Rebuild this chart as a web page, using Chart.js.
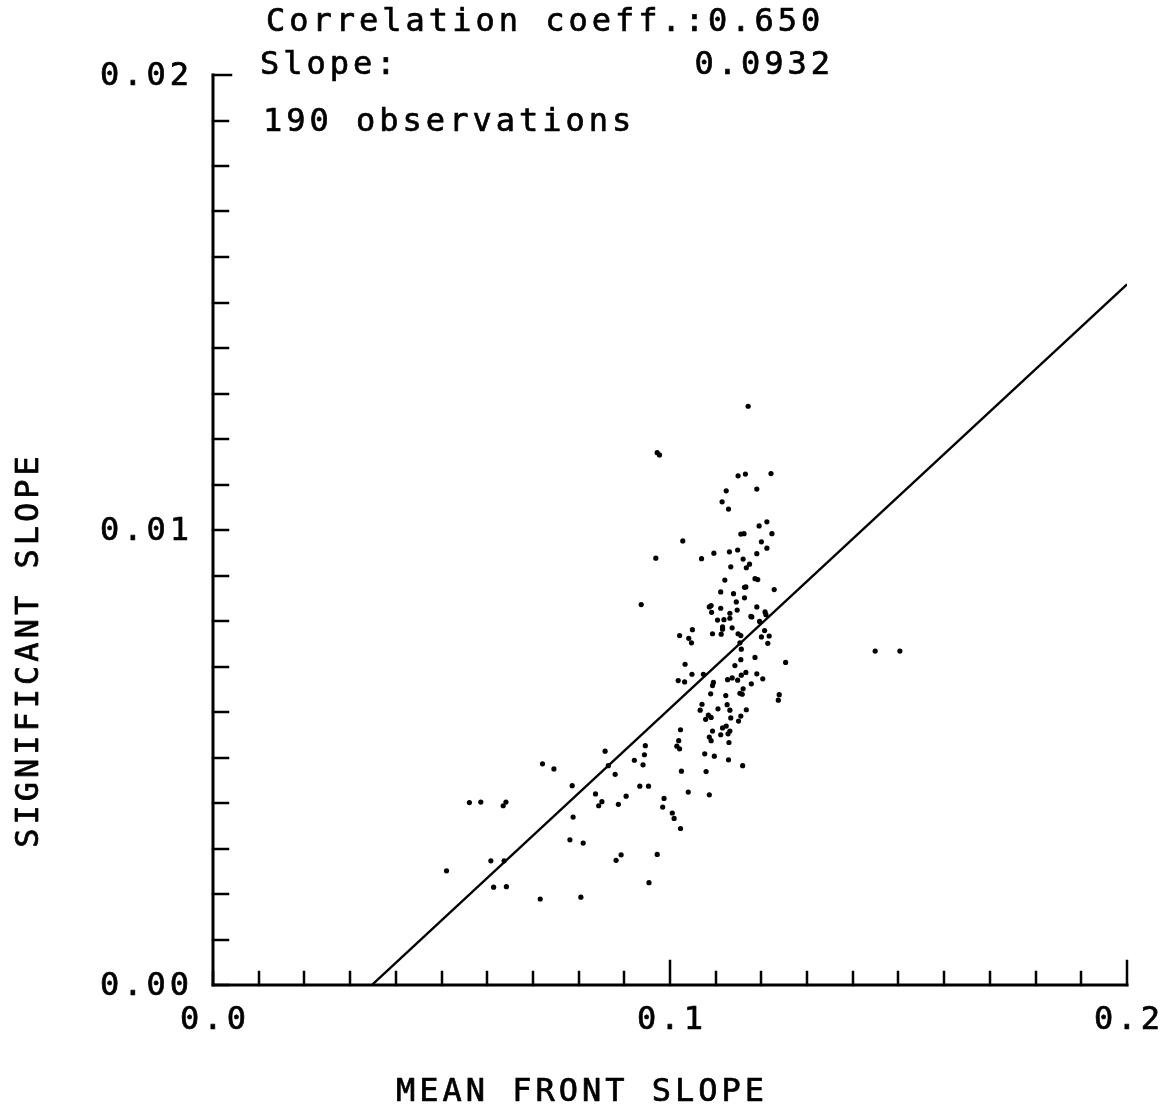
<!DOCTYPE html>
<html>
<head>
<meta charset="utf-8">
<script src="https://cdn.jsdelivr.net/npm/chart.js@4.4.0/dist/chart.umd.min.js"></script>
<style>
  html, body { margin: 0; padding: 0; background: #ffffff; }
  canvas { display: block; }
</style>
</head>
<body>
<canvas id="chart" width="1172" height="1118"></canvas>
<script>
// Mean front slope (x) and significant slope (y) for each observation
const frontSlope = [
  0.0511,0.0561,0.0586,0.0608,0.0614,0.0635,0.0641,0.0637,0.0642,0.0716,
  0.0721,0.0746,0.0781,0.0786,0.0788,0.0805,0.0810,0.0837,0.0844,0.0851,
  0.0858,0.0865,0.0880,0.0882,0.0887,0.0893,0.0904,0.0922,0.0934,0.0941,
  0.0944,0.0946,0.0953,0.0954,0.0972,0.0984,0.0987,0.1005,0.1009,0.1015,
  0.1021,0.1019,0.1023,0.1023,0.1025,0.1040,0.1086,
  0.0937,0.0969,0.0972,0.1028,0.1049,0.1021,0.1041,0.1047,0.1033,0.1048,0.1018,0.1032,
  0.1066,0.1073,0.1153,0.1214,0.1156,0.1186,0.1155,0.1253,0.1142,0.1166,
  0.1156,0.1190,0.1136,0.1126,0.1148,0.1203,0.1178,0.1095,0.1093,0.1160,
  0.1153,0.1158,0.1089,0.1122,0.1239,0.1237,0.1070,0.1125,0.1105,0.1131,
  0.1167,0.1084,0.1078,0.1090,0.1155,0.1133,0.1150,0.1123,0.1115,0.1093,
  0.1131,0.1127,0.1111,0.1086,0.1090,0.1129,0.1076,0.1097,0.1128,0.1159,0.1079,
  0.1114,0.1128,0.1212,0.1195,0.1223,0.1155,0.1162,0.1200,0.1212,0.1130,
  0.1148,0.1096,0.1190,0.1069,0.1160,0.1174,0.1167,0.1133,0.1186,0.1192,
  0.1120,0.1163,0.1111,0.1139,0.1228,0.1163,0.1145,0.1090,0.1086,0.1111,
  0.1190,0.1147,0.1091,0.1131,0.1208,0.1177,0.1118,0.1104,0.1131,0.1196,
  0.1115,0.1115,0.1136,0.1207,0.1093,0.1112,0.1149,0.1155,0.1200,0.1217,
  0.1210,0.1166,0.1179,0.1123,0.1190,0.1149,0.1165,0.1221,0.1171,0.0977,0.1449,0.1503
];
const significantSlope = [
  0.00251,0.00401,0.00402,0.00273,0.00215,0.00394,0.00402,0.00273,0.00216,0.00189,
  0.00486,0.00475,0.00319,0.00438,0.00369,0.00193,0.00312,0.00420,0.00394,0.00403,
  0.00514,0.00482,0.00463,0.00274,0.00397,0.00286,0.00415,0.00494,0.00437,0.00484,
  0.00506,0.00526,0.00437,0.00225,0.00287,0.00391,0.00410,0.00378,0.00366,0.00525,
  0.00519,0.00537,0.00561,0.00344,0.00470,0.00424,0.00418,
  0.00836,0.00938,0.01170,0.00976,0.00781,0.00768,0.00762,0.00752,0.00705,0.00683,0.00669,0.00666,
  0.00604,0.00683,0.00752,0.00751,0.00738,0.00720,0.00715,0.00709,0.00702,0.00687,
  0.00681,0.00684,0.00675,0.00671,0.00670,0.00673,0.00662,0.00665,0.00658,0.00651,
  0.00641,0.00639,0.00640,0.00636,0.00638,0.00626,0.00617,0.00616,0.00607,0.00604,
  0.00605,0.00593,0.00584,0.00588,0.00591,0.00587,0.00580,0.00569,0.00565,0.00558,
  0.00558,0.00552,0.00550,0.00545,0.00537,0.00533,0.00508,0.00503,0.00495,0.00482,0.00469,
  0.01062,0.01046,0.01018,0.01009,0.00992,0.00991,0.00992,0.00974,0.00960,0.00952,
  0.00956,0.00949,0.00948,0.00937,0.00936,0.00925,0.00917,0.00919,0.00893,0.00891,
  0.00890,0.00874,0.00864,0.00860,0.00869,0.00851,0.00842,0.00834,0.00831,0.00828,
  0.00831,0.00824,0.00819,0.00817,0.00820,0.00810,0.00803,0.00802,0.00806,0.00799,
  0.00787,0.00782,0.00785,0.00779,0.00772,0.00771,0.00772,0.00768,0.00765,0.00767,
  0.00814,0.00875,0.00809,0.01086,0.01090,0.01119,0.01123,0.01124,0.01272,0.01165,0.00734,0.00734
];

// Axis ticks and labels
const xTickValues = [0.0, 0.1, 0.2];
const xTickLabels = ['0.0', '0.1', '0.2'];
const yTickValues = [0.00, 0.01, 0.02];
const yTickLabels = ['0.00', '0.01', '0.02'];
const xMinorStep = 0.01;
const yMinorStep = 0.001;

// Regression summary
const correlationCoeff = '0.650';
const fitSlope = 0.0932;
const fitIntercept = -0.00324;
const fitXRange = [0.0348, 0.2];
const observationCount = 190;

const points = frontSlope.map((x, i) => ({ x: x, y: significantSlope[i] }));
const fitLine = fitXRange.map(x => ({ x: x, y: fitSlope * x + fitIntercept }));

const FONT = '32px "DejaVu Sans Mono"';
const INK = '#000000';

// Pen-style text: filled glyphs with a thin outline for a slightly heavier stroke
function drawText(ctx, text, x, y, align, baseline, rotate) {
  ctx.save();
  ctx.font = FONT;
  ctx.fillStyle = INK;
  ctx.strokeStyle = INK;
  ctx.lineWidth = 0.7;
  ctx.lineJoin = 'round';
  if ('letterSpacing' in ctx) ctx.letterSpacing = '4px';
  ctx.translate(x, y);
  if (rotate) ctx.rotate(rotate);
  const w = ctx.measureText(text).width;
  let dx = 0;
  if (align === 'center') dx = -w / 2;
  else if (align === 'right') dx = -w;
  ctx.textAlign = 'left';
  ctx.textBaseline = baseline;
  ctx.fillText(text, dx, 0);
  ctx.strokeText(text, dx, 0);
  ctx.restore();
}

// Plotter-style axes: inward ticks, labels and annotation text
const plotterFrame = {
  id: 'plotterFrame',
  afterDraw(chart) {
    const ctx = chart.ctx;
    const xs = chart.scales.x, ys = chart.scales.y;
    const left = xs.left, bottom = ys.bottom;
    ctx.save();
    ctx.strokeStyle = INK;
    ctx.lineCap = 'square';

    // axis lines
    ctx.lineWidth = 3;
    ctx.beginPath();
    ctx.moveTo(left, ys.getPixelForValue(0.02));
    ctx.lineTo(left, bottom);
    ctx.lineTo(xs.getPixelForValue(0.2), bottom);
    ctx.stroke();

    // y ticks, pointing right
    ctx.lineWidth = 2.5;
    for (let i = 0; i <= 20; i++) {
      const v = i * yMinorStep;
      const py = Math.round(ys.getPixelForValue(v));
      const len = (i === 20) ? 18 : 15;
      ctx.beginPath();
      ctx.moveTo(left, py);
      ctx.lineTo(left + len, py);
      ctx.stroke();
    }
    // x ticks, pointing up
    for (let i = 0; i <= 20; i++) {
      const v = i * xMinorStep;
      const px = Math.round(xs.getPixelForValue(v));
      const len = (i === 10 || i === 20) ? 24 : 13;
      ctx.beginPath();
      ctx.moveTo(px, bottom);
      ctx.lineTo(px, bottom - len);
      ctx.stroke();
    }
    ctx.restore();

    // tick labels
    yTickValues.forEach((v, i) => {
      drawText(ctx, yTickLabels[i], left - 20, ys.getPixelForValue(v) + 2, 'right', 'middle');
    });
    xTickValues.forEach((v, i) => {
      drawText(ctx, xTickLabels[i], xs.getPixelForValue(v) + 2, bottom + 36, 'center', 'middle');
    });

    // axis titles
    drawText(ctx, 'MEAN FRONT SLOPE', 582, 1093, 'center', 'middle');
    drawText(ctx, 'SIGNIFICANT SLOPE', 30, 650, 'center', 'middle', -Math.PI / 2);

    // regression summary
    drawText(ctx, 'Correlation coeff.:' + correlationCoeff, 266, 23, 'left', 'middle');
    drawText(ctx, 'Slope:', 260, 66, 'left', 'middle');
    drawText(ctx, fitSlope.toFixed(4), 834, 66, 'right', 'middle');
    drawText(ctx, observationCount + ' observations', 263, 123, 'left', 'middle');
  }
};

new Chart(document.getElementById('chart'), {
  data: {
    datasets: [
      {
        type: 'scatter',
        data: points,
        backgroundColor: INK,
        borderColor: INK,
        pointRadius: 2.6,
        pointBorderWidth: 0,
        pointHoverRadius: 2.6
      },
      {
        type: 'line',
        data: fitLine,
        borderColor: INK,
        borderWidth: 2.4,
        pointRadius: 0,
        fill: false,
        tension: 0
      }
    ]
  },
  options: {
    responsive: false,
    animation: false,
    events: [],
    layout: { padding: { left: 213, right: 45, top: 75, bottom: 133 } },
    plugins: { legend: { display: false }, tooltip: { enabled: false }, title: { display: false } },
    scales: {
      x: {
        type: 'linear', position: 'bottom', min: 0, max: 0.2,
        grid: { display: false, drawTicks: false },
        border: { display: false },
        ticks: { display: false },
        afterFit: s => { s.height = 0; }
      },
      y: {
        type: 'linear', position: 'left', min: 0, max: 0.02,
        grid: { display: false, drawTicks: false },
        border: { display: false },
        ticks: { display: false },
        afterFit: s => { s.width = 0; }
      }
    }
  },
  plugins: [plotterFrame]
});
</script>
</body>
</html>
